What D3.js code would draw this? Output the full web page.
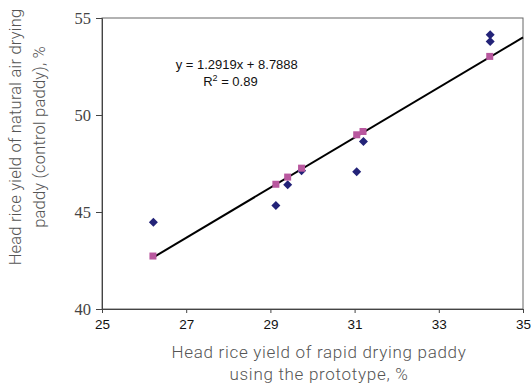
<!DOCTYPE html>
<html>
<head>
<meta charset="utf-8">
<script src="https://cdn.jsdelivr.net/npm/d3@7"></script>
<style>
  body { margin: 0; background: #fff; }
  svg { display: block; }
</style>
</head>
<body>
<div id="chart"></div>
<script>
// measured head rice yield (%), rapid drying vs natural air drying
var measuredX = [26.22, 29.13, 29.41, 29.74, 31.05, 31.21, 34.22, 34.22];
var measuredY = [44.47, 45.33, 46.40, 47.12, 47.08, 48.63, 54.14, 53.79];

// values predicted by the trendline
var predictedX = [26.21, 29.13, 29.41, 29.74, 31.05, 31.20, 34.21];
var predictedY = [42.73, 46.43, 46.80, 47.26, 48.98, 49.15, 53.02];

// trendline end points
var trendX = [26.21, 35];
var trendY = [42.65, 54.0];

var xTicks = [25, 27, 29, 31, 33, 35];
var yTicks = [40, 45, 50, 55];

var equationText = "y = 1.2919x + 8.7888";
var xTitle = ["Head rice yield of rapid drying paddy", "using the prototype, %"];
var yTitle = ["Head rice yield of natural air drying", "paddy (control paddy), %"];

var width = 531, height = 385;
var margin = {top: 18, right: 8, bottom: 76, left: 102};

var svg = d3.select("#chart").append("svg")
    .attr("width", width)
    .attr("height", height);

var xScale = d3.scaleLinear()
    .domain([25, 35])
    .range([margin.left, width - margin.right]);

var yScale = d3.scaleLinear()
    .domain([40, 55])
    .range([height - margin.bottom, margin.top]);

// frame on top and right
svg.append("rect")
    .attr("x", xScale(25))
    .attr("y", yScale(55))
    .attr("width", xScale(35) - xScale(25))
    .attr("height", yScale(40) - yScale(55))
    .attr("fill", "none")
    .attr("stroke", "#666")
    .attr("stroke-width", 1);

// x axis
var xAxis = svg.append("g")
    .attr("transform", "translate(0," + yScale(40) + ")")
    .call(d3.axisBottom(xScale).tickValues(xTicks).tickSize(4).tickPadding(6).tickFormat(d3.format("d")));
xAxis.select(".domain").attr("stroke", "#444");
xAxis.selectAll(".tick line").attr("stroke", "#444");
xAxis.selectAll("text")
    .attr("font-family", "Liberation Sans, Arial, sans-serif")
    .attr("font-size", 13.5)
    .attr("fill", "#111");

// y axis
var yAxis = svg.append("g")
    .attr("transform", "translate(" + xScale(25) + ",0)")
    .call(d3.axisLeft(yScale).tickValues(yTicks).tickSize(6).tickPadding(5).tickFormat(d3.format("d")));
yAxis.select(".domain").attr("stroke", "#444");
yAxis.selectAll(".tick line").attr("stroke", "#444");
yAxis.selectAll("text")
    .attr("font-family", "Liberation Serif, Times New Roman, serif")
    .attr("font-size", 16.5)
    .attr("fill", "#444");

// trendline
svg.append("line")
    .attr("x1", xScale(trendX[0]))
    .attr("y1", yScale(trendY[0]))
    .attr("x2", xScale(trendX[1]))
    .attr("y2", yScale(trendY[1]))
    .attr("stroke", "#000")
    .attr("stroke-width", 2);

// measured points as diamonds
svg.selectAll(".measured")
    .data(measuredX)
    .enter()
    .append("path")
    .attr("class", "measured")
    .attr("d", "M0,-4.5L4.5,0L0,4.5L-4.5,0Z")
    .attr("transform", function(d, i) {
        return "translate(" + xScale(d) + "," + yScale(measuredY[i]) + ")";
    })
    .attr("fill", "#232378");

// predicted points as squares
svg.selectAll(".predicted")
    .data(predictedX)
    .enter()
    .append("rect")
    .attr("class", "predicted")
    .attr("x", function(d) { return xScale(d) - 3.5; })
    .attr("y", function(d, i) { return yScale(predictedY[i]) - 3.5; })
    .attr("width", 7)
    .attr("height", 7)
    .attr("fill", "#b9589f");

// equation
svg.append("text")
    .attr("x", xScale(28.2))
    .attr("y", yScale(52.35))
    .attr("text-anchor", "middle")
    .attr("font-family", "Liberation Sans, Arial, sans-serif")
    .attr("font-size", 13)
    .attr("fill", "#111")
    .text(equationText);

var r2 = svg.append("text")
    .attr("x", xScale(28.05))
    .attr("y", yScale(51.5))
    .attr("text-anchor", "middle")
    .attr("font-family", "Liberation Sans, Arial, sans-serif")
    .attr("font-size", 13)
    .attr("fill", "#111");
r2.append("tspan").text("R");
r2.append("tspan").attr("dy", -5).attr("font-size", 9).text("2");
r2.append("tspan").attr("dy", 5).text(" = 0.89");

// axis titles
var titleFont = "Roboto, Lato, sans-serif";

svg.append("g")
    .selectAll("text")
    .data(xTitle)
    .enter()
    .append("text")
    .attr("x", 319)
    .attr("y", function(d, i) { return 358 + i * 22; })
    .attr("text-anchor", "middle")
    .attr("font-family", titleFont)
    .attr("font-weight", 300)
    .attr("font-size", 17)
    .attr("letter-spacing", 0.7)
    .attr("fill", "#555")
    .text(function(d) { return d; });

svg.append("g")
    .attr("transform", "translate(0,137) rotate(-90)")
    .selectAll("text")
    .data(yTitle)
    .enter()
    .append("text")
    .attr("x", 0)
    .attr("y", function(d, i) { return 21 + i * 24; })
    .attr("text-anchor", "middle")
    .attr("font-family", titleFont)
    .attr("font-weight", 300)
    .attr("font-size", 16.5)
    .attr("letter-spacing", 0.2)
    .attr("fill", "#555")
    .text(function(d) { return d; });
</script>
</body>
</html>
